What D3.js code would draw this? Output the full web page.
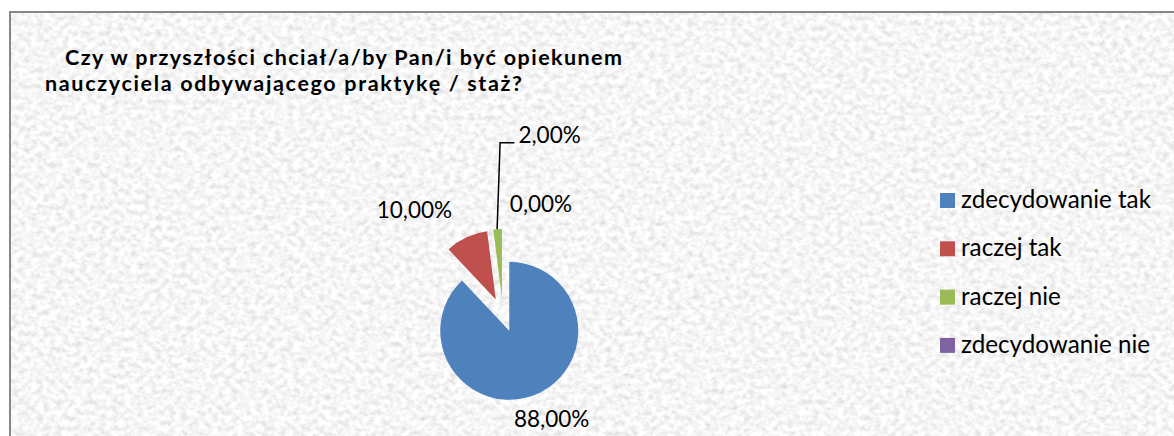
<!DOCTYPE html>
<html>
<head>
<meta charset="utf-8">
<script src="https://cdn.jsdelivr.net/npm/d3@7/dist/d3.min.js"></script>
<style>
  body { margin: 0; background: #fff; }
  text { font-family: Lato, "Open Sans", sans-serif; fill: #000; }
</style>
</head>
<body>
<div id="chart"></div>
<script>
// data
var categories = ["zdecydowanie tak", "raczej tak", "raczej nie", "zdecydowanie nie"];
var shares = [88, 10, 2, 0];
var labels = ["88,00%", "10,00%", "2,00%", "0,00%"];
var colours = ["#4f81bd", "#c0504d", "#9bbb59", "#8064a2"];
var titleLines = ["Czy w przyszłości chciał/a/by Pan/i być opiekunem",
                  "nauczyciela odbywającego praktykę / staż?"];

var width = 1174, height = 436;
var centre = {x: 503, y: 315}, radius = 69, explode = 17;
// label offsets from the exploded outer edge of each slice (dx, dy of label centre/baseline)
var labelOffset = [[17, 32], [-52, -19], [52, -86], [38, -17]];
var titleLayout = [{x: 65, y: 65, w: 557}, {x: 45, y: 91, w: 477}];

var svg = d3.select("#chart").append("svg")
  .attr("width", width).attr("height", height);

// textured chart area
var defs = svg.append("defs");
var f = defs.append("filter").attr("id", "paper")
  .attr("filterUnits", "objectBoundingBox")
  .attr("x", 0).attr("y", 0).attr("width", 1).attr("height", 1);
f.append("feTurbulence").attr("type", "fractalNoise")
  .attr("baseFrequency", "0.16 0.19").attr("numOctaves", 3).attr("seed", 7).attr("result", "n");
f.append("feColorMatrix").attr("type", "matrix")
  .attr("values", "0.5 0 0 0 0.67  0.5 0 0 0 0.67  0.5 0 0 0 0.67  0 0 0 0 1");

svg.append("rect").attr("x", 10).attr("y", 12).attr("width", 1170).attr("height", 430)
  .attr("fill", "#ececec").attr("filter", "url(#paper)");
svg.append("rect").attr("x", 10).attr("y", 12).attr("width", 1170).attr("height", 430)
  .attr("fill", "none").attr("stroke", "#878787").attr("stroke-width", 2);

// title
svg.append("g").selectAll("text").data(titleLines).enter().append("text")
  .attr("x", function (d, i) { return titleLayout[i].x; })
  .attr("y", function (d, i) { return titleLayout[i].y; })
  .attr("textLength", function (d, i) { return titleLayout[i].w; })
  .attr("lengthAdjust", "spacing")
  .style("font-weight", "bold").style("font-size", "21.5px")
  .text(function (d) { return d; });

// pie
var pie = d3.pie().sort(null).value(function (d) { return d; });
var arcs = pie(shares);
var arc = d3.arc().innerRadius(0).outerRadius(radius);

function dir(a) { return [Math.sin(a), -Math.cos(a)]; }

var g = svg.append("g").attr("transform", "translate(" + centre.x + "," + centre.y + ")");
g.selectAll("path").data(arcs).enter().append("path")
  .attr("d", arc)
  .attr("fill", function (d, i) { return colours[i]; })
  .attr("transform", function (d) {
    var m = dir((d.startAngle + d.endAngle) / 2);
    return "translate(" + m[0] * explode + "," + m[1] * explode + ")";
  });

// data labels
var lab = arcs.map(function (d, i) {
  var m = dir((d.startAngle + d.endAngle) / 2);
  var ex = m[0] * (radius + explode), ey = m[1] * (radius + explode);
  return {x: ex + labelOffset[i][0], y: ey + labelOffset[i][1], ex: ex, ey: ey, text: labels[i]};
});
g.selectAll("text.lbl").data(lab).enter().append("text")
  .attr("class", "lbl")
  .attr("x", function (d) { return d.x; }).attr("y", function (d) { return d.y; })
  .attr("text-anchor", "middle").style("font-size", "22.5px")
  .text(function (d) { return d.text; });

// leader line for the small green slice
var gl = lab[2];
var gText = g.selectAll("text.lbl").filter(function (d, i) { return i === 2; }).node();
var tw = gText.getComputedTextLength();
g.append("path")
  .attr("d", d3.line()([[gl.ex - 0.5, gl.ey], [gl.ex + 2.5, gl.y - 0.5], [gl.x - tw / 2 - 4, gl.y - 0.5]]))
  .attr("fill", "none").attr("stroke", "#000").attr("stroke-width", 1.5);

// legend
var leg = svg.append("g").attr("transform", "translate(940,0)");
var item = leg.selectAll("g").data(categories).enter().append("g")
  .attr("transform", function (d, i) { return "translate(0," + (208 + i * 48.3) + ")"; });
item.append("rect").attr("x", 0).attr("y", -15).attr("width", 15).attr("height", 15)
  .attr("fill", function (d, i) { return colours[i]; });
item.append("text").attr("x", 21).attr("y", 0).style("font-size", "24.2px")
  .text(function (d) { return d; });
</script>
</body>
</html>
